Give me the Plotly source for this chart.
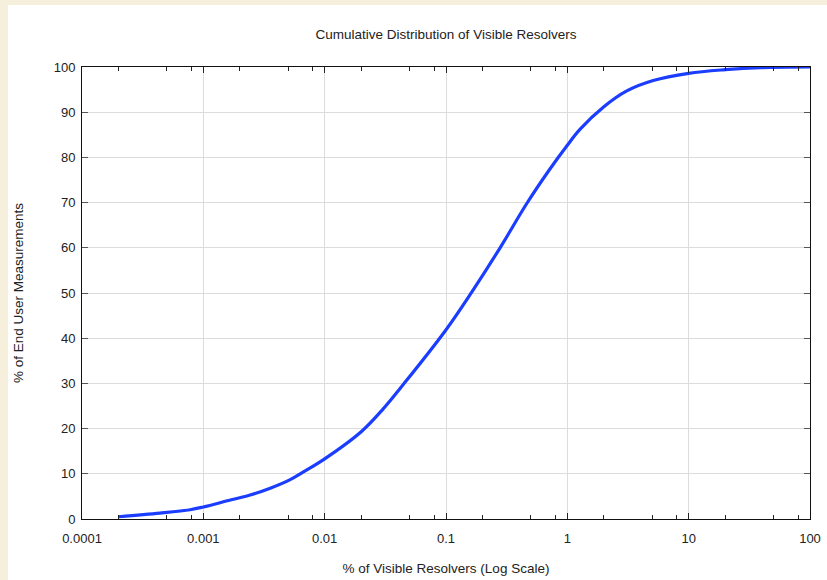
import plotly.graph_objects as go

# Data
pct_resolvers = [0.0002, 0.00044, 0.00078, 0.001, 0.00167, 0.00243, 0.00356, 0.0052, 0.00668,
                 0.01, 0.02, 0.03, 0.0446, 0.0984, 0.163, 0.279, 0.463, 0.7,
                 1.0, 1.27, 2.0, 3.09, 5.1, 10, 20, 39, 100]
pct_measurements = [0.5, 1.3, 2.05, 2.65, 4.2, 5.3, 6.8, 8.7, 10.4,
                    13.3, 19.3, 24.2, 29.8, 41.6, 50.2, 60.0, 69.8, 77.0,
                    82.7, 86.2, 91.2, 94.7, 97.0, 98.6, 99.4, 99.85, 100]

x_tick_vals = [0.0001, 0.001, 0.01, 0.1, 1, 10, 100]
x_tick_text = ["0.0001", "0.001", "0.01", "0.1", "1", "10", "100"]
minor_vals = [m * d for d in [0.0001, 0.001, 0.01, 0.1, 1, 10] for m in (2, 5, 8)]

W, H = 827, 580
ML, MR, MT, MB = 82, 17, 67, 61
PW, PH = W - ML - MR, H - MT - MB

fig = go.Figure()
fig.add_trace(go.Scatter(
    x=pct_resolvers, y=pct_measurements, mode="lines",
    line=dict(color="#1a3dff", width=3.2, shape="spline", smoothing=1),
    showlegend=False, hoverinfo="skip"))

font = dict(family="Liberation Sans, Arial, sans-serif", color="#222222")

fig.update_layout(
    width=W, height=H, autosize=False,
    margin=dict(l=ML, r=MR, t=MT, b=MB, autoexpand=False),
    paper_bgcolor="#f5efdc",
    plot_bgcolor="white",
    font=dict(size=13, **font),
    title=dict(text="Cumulative Distribution of Visible Resolvers",
               x=446 / W, xanchor="center", y=1 - 34 / H, yanchor="middle",
               yref="container", xref="container",
               font=dict(size=13.5, **font)),
    shapes=[dict(type="rect", xref="paper", yref="paper",
                 x0=(8 - ML) / PW, x1=(W - ML) / PW + 0.01,
                 y0=-MB / PH - 0.01, y1=(H - 5 - MB) / PH,
                 fillcolor="white", line=dict(width=0), layer="below")],
)

fig.update_xaxes(
    type="log", range=[-4, 2], automargin=False,
    tickmode="array", tickvals=x_tick_vals, ticktext=x_tick_text,
    ticks="inside", ticklen=6, tickcolor="#222", tickwidth=1,
    ticklabelstandoff=7,
    showgrid=True, gridcolor="#dcdcdc", gridwidth=1,
    showline=True, linecolor="#111", linewidth=1, mirror="ticks",
    minor=dict(tickmode="array", tickvals=minor_vals, ticks="inside",
               ticklen=4, tickcolor="#222", showgrid=False),
    tickfont=dict(size=13, **font),
    title=dict(text="% of Visible Resolvers (Log Scale)", standoff=18,
               font=dict(size=13.5, **font)),
    zeroline=False,
)
fig.update_yaxes(
    range=[0, 100], dtick=10, tick0=0, automargin=False,
    ticks="inside", ticklen=6, tickcolor="#555", tickwidth=1,
    ticklabelstandoff=3,
    showgrid=True, gridcolor="#dcdcdc", gridwidth=1,
    showline=True, linecolor="#111", linewidth=1, mirror="ticks",
    tickfont=dict(size=13, **font),
    title=dict(text="% of End User Measurements", standoff=26,
               font=dict(size=13.5, **font)),
    zeroline=False,
)

fig.write_html("out.html", config={"displayModeBar": False},
               post_script="document.body.style.margin='0';document.body.style.overflow='hidden';")
